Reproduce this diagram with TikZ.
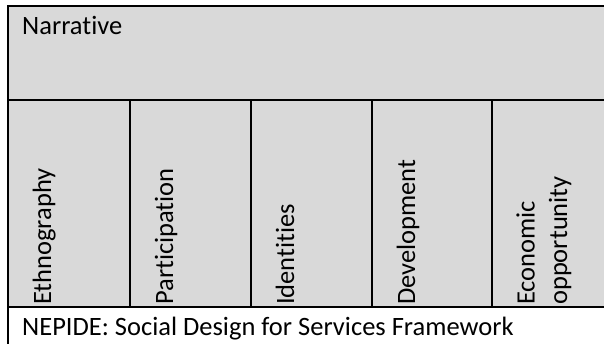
\documentclass[tikz,border=0pt]{standalone}
\usepackage{fontspec}
\setmainfont[Ligatures={NoCommon}]{Carlito}
\definecolor{cellgray}{HTML}{D9D9D9}
\begin{document}
\begin{tikzpicture}[x=1pt,y=-1pt,
  rule/.style={line width=2pt,black},
  lbl/.style={inner sep=0pt,font=\fontsize{26.5}{32.3}\selectfont},
  vlbl/.style={lbl,rotate=90,anchor=base west,align=left}]
\useasboundingbox (0,0) rectangle (604,344);
\fill[white] (0,0) rectangle (604,344);
\fill[cellgray] (8,6) rectangle (604,307);
% frame lines
\draw[rule] (604,6) -- (8,6) -- (8,344);
\draw[rule] (8,100) -- (604,100);
\draw[rule] (8,307) -- (604,307);
\foreach \x in {130,251,372,492} \draw[rule] (\x,100) -- (\x,307);
% labels
\node[lbl,anchor=base west] (narr) at (22,35) {Narrative};
\node[vlbl] (eth) at (51,305) {Ethnography};
\node[vlbl] (par) at (173,305) {Participation};
\node[vlbl] (ide) at (294,305) {Identities};
\node[vlbl] (dev) at (415,305) {Development};
\node[vlbl] (eco) at (567,305) {Economic\\opportunity};
\node[lbl,anchor=base west] (title) at (22,335) {NEPIDE: Social Design for Services Framework};
\end{tikzpicture}
\end{document}
